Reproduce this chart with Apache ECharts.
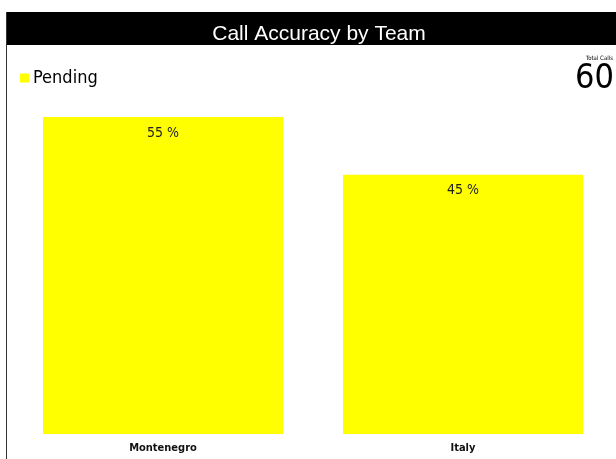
<!DOCTYPE html>
<html>
<head>
<meta charset="utf-8">
<script src="https://cdn.jsdelivr.net/npm/echarts@6/dist/echarts.min.js"></script>
<style>
  html, body { margin: 0; padding: 0; background: #fff; }
  #chart { width: 616px; height: 459px; }
</style>
</head>
<body>
<div id="chart"></div>
<script>
const teams = ['Montenegro', 'Italy']
const pending = [55, 45]
const totalCalls = 60

const chart = echarts.init(document.getElementById('chart'))

chart.setOption({
  animation: false,
  title: {
    text: 'Call Accuracy by Team',
    left: 314,
    top: 19,
    textAlign: 'center',
    textStyle: {
      color: '#fff',
      fontFamily: 'Liberation Sans',
      fontSize: 21,
      fontWeight: 'normal'
    }
  },
  legend: {
    left: 15,
    top: 64,
    itemWidth: 9,
    itemHeight: 9,
    itemGap: 4,
    icon: 'rect',
    textStyle: {
      fontFamily: 'DejaVu Sans Condensed',
      fontSize: 18,
      color: '#000',
      padding: [0, 0, 0, -1]
    },
    data: ['Pending']
  },
  graphic: [
    { type: 'rect', z: -1, shape: { x: 6, y: 12, width: 610, height: 33 }, style: { fill: '#000' } },
    { type: 'rect', shape: { x: 6, y: 12, width: 1, height: 447 }, style: { fill: '#333' } },
    {
      type: 'text', right: 3, top: 55,
      style: { text: 'Total Calls', font: '6px "DejaVu Sans Condensed"', fill: '#000' }
    },
    {
      type: 'text', right: 2, top: 62,
      style: { text: String(totalCalls), font: '34px "DejaVu Sans Condensed"', fill: '#000' }
    }
  ],
  grid: {
    left: 13,
    right: 3,
    top: 117,
    bottom: 25,
    containLabel: false
  },
  xAxis: {
    type: 'category',
    data: teams,
    axisLine: { show: false },
    axisTick: { show: false },
    axisLabel: {
      margin: 9,
      fontFamily: 'DejaVu Sans Condensed',
      fontSize: 11,
      fontWeight: 'bold',
      color: '#111'
    }
  },
  yAxis: {
    type: 'value',
    min: 0,
    max: 55,
    show: false,
    splitLine: { show: false }
  },
  series: [
    {
      name: 'Pending',
      type: 'bar',
      data: pending,
      barWidth: '80%',
      itemStyle: { color: '#ffff00' },
      label: {
        show: true,
        position: 'insideTop',
        distance: 9,
        formatter: '{c} %',
        fontFamily: 'DejaVu Sans Condensed',
        fontSize: 14,
        color: '#222'
      }
    }
  ]
})
</script>
</body>
</html>
